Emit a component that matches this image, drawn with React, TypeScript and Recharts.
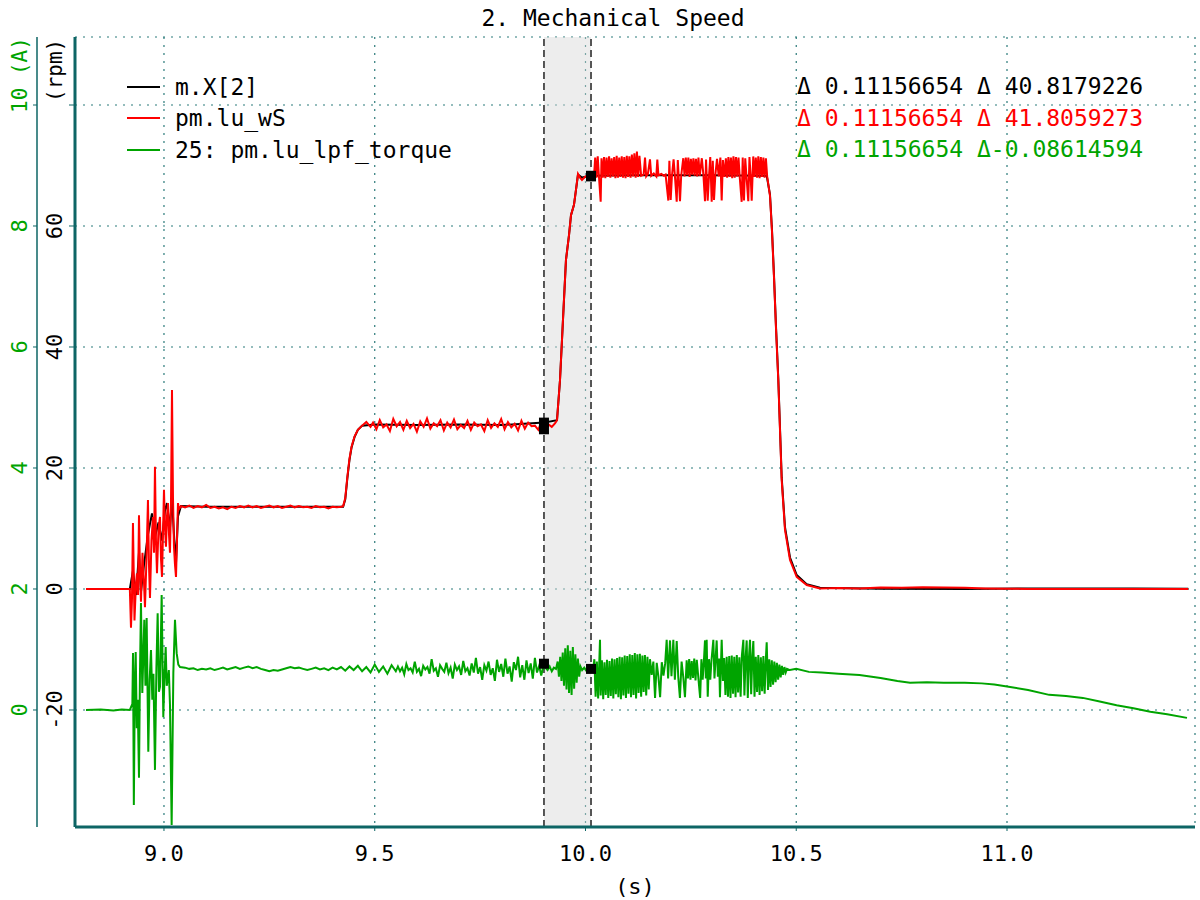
import React from 'react';
import {
  LineChart,
  Line,
  XAxis,
  YAxis,
  CartesianGrid,
  ReferenceArea,
  ReferenceLine,
  ReferenceDot,
} from 'recharts';

const FONT = '"DejaVu Sans Mono", monospace';
const TEAL = '#0d6565';
const GRID = '#2b7a7a';
const BLACK = '#000000';
const RED = '#ff0000';
const GREEN = '#00a400';

// axis ids: 0 = speed (rpm, inner), 1 = current (A, outer)
const RPM = 0;
const AMP = 1;

const timeTicks = [9.0, 9.5, 10.0, 10.5, 11.0];
const rpmTicks = [-20, 0, 20, 40, 60, 80];
const ampTicks = [0, 2, 4, 6, 8, 10];

// two cursors, 0.11156654 s apart
const cursorTimes = [9.9015, 10.0131];
const cursorBlack = [27.5, 68.3];
const cursorRed = [26.4, 68.2];
const cursorGreen = [0.765, 0.679];

const legendNames = ['m.X[2]', 'pm.lu_wS', '25: pm.lu_lpf_torque'];
const deltaLines = [
  'Δ 0.11156654 Δ 40.8179226',
  'Δ 0.11156654 Δ 41.8059273',
  'Δ 0.11156654 Δ-0.08614594',
];

// m.X[2] (rpm)
const blackSpeed: [number, number][] = [
  [8.815, 0], [8.919, 0], [8.9264, 3], [8.9336, -1], [8.9407, 6], [8.9454, -0.5],
  [8.9526, 4], [8.962, 9], [8.9715, 12.5], [8.9786, 8.6], [8.987, 11], [8.9953, 8],
  [9.0024, 13], [9.0071, 14.2], [9.0142, 10], [9.019, 15], [9.0237, 9], [9.0285, 4.3],
  [9.0332, 12], [9.0403, 13.7], [9.1, 13.6], [9.2, 13.6], [9.3, 13.6], [9.425, 13.6],
  [9.43, 14.8], [9.435, 18.3], [9.44, 21.3], [9.445, 23.4], [9.452, 25.1], [9.46, 26.3],
  [9.47, 27.0], [9.5, 27.2], [9.6, 27.1], [9.7, 27.2], [9.8, 27.1], [9.9015, 27.5],
  [9.9324, 27.9], [9.9395, 34.5], [9.9466, 44.5], [9.9537, 54.4], [9.9609, 58.5],
  [9.9656, 61.8], [9.9727, 63.5], [9.9775, 66], [9.9822, 68.5], [9.9917, 68.0],
  [10.0131, 68.3], [10.1, 68.4], [10.2, 68.4], [10.3, 68.4], [10.43, 68.3],
  [10.4377, 65.2], [10.4425, 59.3], [10.4472, 51.8], [10.452, 43.3], [10.4574, 34.8],
  [10.4655, 18.4], [10.4733, 10.2], [10.4852, 5.2], [10.5011, 2.3], [10.5248, 0.8],
  [10.5563, 0.2], [10.7, 0.05], [10.9, 0.0], [11.05, 0.1], [11.3, 0.1], [11.43, 0.05],
];

// pm.lu_wS (rpm)
const redSpeed: [number, number][] = [
  [8.815, 0], [8.919, 0], [8.9217, -6.4], [8.924, -2], [8.9264, 10.9], [8.93, -5.2],
  [8.9336, 1], [8.9359, 2.6], [8.9383, -1], [8.9407, 12.2], [8.9431, 3], [8.9454, -2.1],
  [8.949, 6], [8.9526, 1], [8.9549, -3], [8.9585, 5], [8.962, 14.7], [8.9644, 4],
  [8.9668, -1.5], [8.9703, 8], [8.9739, 11.9], [8.9763, 6], [8.9786, 20.2], [8.981, 8],
  [8.9834, 2.6], [8.987, 10], [8.9905, 11.9], [8.9929, 5], [8.9953, 2], [8.9976, 9],
  [9.0, 16.4], [9.0024, 10], [9.0047, 7], [9.0071, 12], [9.0095, 14.2], [9.0119, 9],
  [9.0142, 6], [9.0166, 14], [9.019, 32.9], [9.0214, 15], [9.0237, 7], [9.0261, 4],
  [9.0285, 2], [9.0308, 8], [9.0332, 14.2], [9.0356, 13.2], [9.0403, 13.7],
  [9.05, 13.5], [9.06, 13.8], [9.07, 13.4], [9.08, 13.7], [9.09, 13.5], [9.1, 13.9],
  [9.11, 13.4], [9.12, 13.6], [9.13, 13.3], [9.14, 13.5], [9.15, 13.2], [9.16, 13.6],
  [9.17, 13.4], [9.18, 13.7], [9.19, 13.5], [9.2, 13.8], [9.21, 13.5], [9.22, 13.7],
  [9.23, 13.4], [9.24, 13.6], [9.25, 13.8], [9.26, 13.5], [9.27, 13.7], [9.28, 13.4],
  [9.29, 13.6], [9.3, 13.8], [9.31, 13.5], [9.32, 13.7], [9.33, 13.5], [9.34, 13.6],
  [9.35, 13.4], [9.36, 13.7], [9.37, 13.5], [9.38, 13.6], [9.39, 13.3], [9.4, 13.6],
  [9.41, 13.5], [9.42, 13.6], [9.425, 13.7],
  [9.43, 15], [9.435, 18.5], [9.44, 21.5], [9.445, 23.5], [9.452, 25.2], [9.46, 26.3],
  [9.47, 27.0], [9.48, 27.6], [9.49, 26.8],
  [9.496, 27.5], [9.504, 26.4], [9.512, 27.9], [9.52, 26.7], [9.528, 27.2], [9.536, 26.1],
  [9.544, 28.1], [9.552, 26.9], [9.56, 27.6], [9.568, 26.3], [9.576, 27.8], [9.584, 26.6],
  [9.592, 27.3], [9.6, 26.0], [9.608, 27.7], [9.616, 26.8], [9.624, 28.2], [9.632, 26.5],
  [9.64, 27.4], [9.648, 26.9], [9.656, 27.9], [9.664, 26.2], [9.672, 27.5], [9.68, 26.7],
  [9.688, 28.0], [9.696, 26.4], [9.704, 27.1], [9.712, 26.6], [9.72, 27.8], [9.728, 26.3],
  [9.736, 27.5], [9.744, 26.9], [9.752, 27.2], [9.76, 26.1], [9.768, 27.9], [9.776, 26.6],
  [9.784, 27.4], [9.792, 26.8], [9.8, 28.1], [9.808, 26.4], [9.816, 27.6], [9.824, 26.7],
  [9.832, 27.3], [9.84, 26.2], [9.848, 27.8], [9.856, 26.5], [9.864, 27.5], [9.872, 26.9],
  [9.88, 27.0], [9.888, 26.3], [9.896, 27.7], [9.904, 26.6], [9.912, 27.2], [9.92, 26.8],
  [9.928, 27.4],
  [9.9324, 27.9], [9.9395, 34.5], [9.9466, 44.5], [9.9537, 54.4], [9.9609, 58.5],
  [9.9656, 61.8], [9.9727, 63.5], [9.9775, 66], [9.9822, 68.6], [9.987, 68.0],
  [9.9917, 67.6], [10.0, 68.2], [10.0059, 68.1], [10.013, 68.2], [10.02, 68.0],
  [10.023, 71.3], [10.026, 68.0], [10.029, 71.5], [10.032, 68.1], [10.036, 64.0],
  [10.038, 71.2], [10.041, 68.0], [10.044, 71.4], [10.047, 67.9], [10.05, 71.3],
  [10.053, 68.1], [10.056, 71.5], [10.059, 68.0], [10.062, 71.2], [10.065, 68.2],
  [10.068, 71.4], [10.071, 67.9], [10.074, 71.6], [10.077, 68.0], [10.08, 71.3],
  [10.083, 68.1], [10.086, 71.5], [10.089, 68.0], [10.092, 71.4], [10.095, 67.9],
  [10.098, 71.6], [10.101, 68.1], [10.104, 71.5], [10.107, 68.0], [10.11, 71.8],
  [10.113, 68.2], [10.116, 72.0], [10.119, 68.0], [10.122, 72.3], [10.125, 68.1],
  [10.128, 71.6],
  [10.132, 68.3], [10.138, 68.5], [10.1412, 71.3], [10.144, 68.2], [10.148, 68.6],
  [10.153, 71.0], [10.156, 68.3], [10.162, 68.7], [10.168, 68.2], [10.1704, 71.0],
  [10.173, 68.4], [10.18, 68.6], [10.186, 68.3], [10.19, 68.5],
  [10.1965, 64.2], [10.199, 70.8], [10.2021, 64.3], [10.205, 68.2], [10.209, 71.0],
  [10.212, 68.4], [10.2164, 64.0], [10.219, 70.9], [10.2242, 64.1], [10.227, 68.3],
  [10.232, 71.2], [10.235, 68.2], [10.238, 71.3], [10.241, 68.4], [10.244, 71.3],
  [10.247, 68.1], [10.25, 71.1], [10.253, 68.5], [10.256, 71.2], [10.259, 68.3],
  [10.262, 71.1], [10.265, 68.2], [10.268, 71.3], [10.271, 68.3],
  [10.276, 71.2], [10.28, 68.2], [10.2835, 64.1], [10.286, 71.0], [10.2899, 64.2],
  [10.293, 68.3], [10.296, 71.4], [10.2994, 64.0], [10.302, 70.8], [10.3049, 64.3],
  [10.308, 68.4], [10.312, 71.1], [10.316, 68.2], [10.32, 71.3], [10.3231, 64.2],
  [10.326, 70.9], [10.33, 68.1], [10.333, 71.2],
  [10.336, 68.0], [10.339, 71.4], [10.342, 68.1], [10.345, 71.3], [10.348, 67.9],
  [10.351, 71.5], [10.354, 68.0], [10.357, 71.4], [10.36, 68.2], [10.363, 71.3],
  [10.366, 68.0], [10.3705, 64.0], [10.373, 71.3], [10.376, 64.2], [10.379, 71.2],
  [10.382, 68.1], [10.3862, 64.1], [10.389, 71.4], [10.392, 68.0], [10.3943, 64.2],
  [10.398, 71.5], [10.401, 68.1], [10.404, 71.3], [10.407, 68.0], [10.41, 71.5],
  [10.413, 67.9], [10.416, 71.4], [10.419, 68.1], [10.422, 71.3], [10.425, 68.0],
  [10.428, 71.2], [10.431, 68.2],
  [10.4377, 65.0], [10.4425, 59.0], [10.4472, 51.5], [10.452, 43.0],
  [10.4574, 34.5], [10.4655, 18.0], [10.4733, 9.75], [10.4852, 4.8], [10.5011, 2.0],
  [10.5248, 0.66], [10.5563, 0.1], [10.6, 0.15], [10.65, 0.1], [10.7, 0.25],
  [10.75, 0.2], [10.8, 0.3], [10.85, 0.25], [10.9, 0.2], [10.95, 0.1], [11.0, 0.05],
  [11.05, 0.0], [11.1, 0.0], [11.2, 0.0], [11.3, 0.0], [11.43, 0.0],
];

// 25: pm.lu_lpf_torque (A)
const greenTorque: [number, number][] = [
  [8.815, 0.0], [8.85, 0.01], [8.88, -0.01], [8.9, 0.01], [8.919, 0.0],
  [8.925, 0.1], [8.9265, 0.94], [8.9285, -1.57], [8.931, 0.5], [8.9329, 0.96],
  [8.9355, -0.3], [8.9376, 0.17], [8.9407, -1.12], [8.943, 0.6], [8.9454, 1.77],
  [8.9486, 0.28], [8.951, 0.9], [8.9533, 1.49], [8.956, 0.4], [8.9589, 1.52],
  [8.9628, -0.69], [8.966, 0.5], [8.9692, 0.99], [8.9723, 0.17], [8.975, 0.6],
  [8.9786, -0.99], [8.982, 0.7], [8.985, 1.6], [8.988, 0.3], [8.9905, 0.38],
  [8.9945, 1.9], [8.9984, -0.12], [9.001, 0.5], [9.004, 1.04], [9.0065, 0.4],
  [9.0088, 0.5], [9.0115, 0.66], [9.0142, 0.1], [9.0182, -1.9], [9.0222, 0.61],
  [9.0261, 1.49], [9.0301, 0.94], [9.034, 0.75], [9.038, 0.71],
  [9.05, 0.7], [9.06, 0.68], [9.07, 0.69], [9.08, 0.66], [9.09, 0.68], [9.1, 0.67],
  [9.11, 0.69], [9.12, 0.66], [9.13, 0.68], [9.14, 0.7], [9.15, 0.67], [9.16, 0.69],
  [9.17, 0.71], [9.18, 0.68], [9.19, 0.7], [9.2, 0.72], [9.21, 0.69], [9.22, 0.71],
  [9.23, 0.68], [9.24, 0.66], [9.25, 0.64], [9.26, 0.66], [9.27, 0.65], [9.28, 0.67],
  [9.29, 0.69], [9.3, 0.71], [9.31, 0.69], [9.32, 0.7], [9.33, 0.68], [9.34, 0.66],
  [9.35, 0.68], [9.36, 0.7], [9.37, 0.67], [9.38, 0.69], [9.39, 0.66], [9.4, 0.7],
  [9.41, 0.67], [9.42, 0.71], [9.43, 0.65], [9.44, 0.72], [9.45, 0.66], [9.46, 0.73],
  [9.47, 0.64], [9.48, 0.71], [9.49, 0.62], [9.5, 0.75], [9.51, 0.63], [9.52, 0.72],
  [9.53, 0.6], [9.54, 0.74], [9.55, 0.64],
  [9.555, 0.72], [9.56, 0.64], [9.565, 0.7], [9.57, 0.59], [9.575, 0.76], [9.58, 0.66],
  [9.585, 0.69], [9.59, 0.62], [9.595, 0.8], [9.6, 0.63], [9.605, 0.68], [9.61, 0.56],
  [9.615, 0.73], [9.62, 0.67], [9.625, 0.71], [9.63, 0.6], [9.635, 0.84], [9.64, 0.65],
  [9.645, 0.69], [9.65, 0.55], [9.655, 0.74], [9.66, 0.68], [9.665, 0.63], [9.67, 0.78],
  [9.675, 0.61], [9.68, 0.7], [9.685, 0.52], [9.69, 0.75], [9.695, 0.66], [9.7, 0.72],
  [9.705, 0.58], [9.71, 0.81], [9.715, 0.64], [9.72, 0.69], [9.725, 0.57], [9.73, 0.77],
  [9.735, 0.62], [9.74, 0.86], [9.745, 0.6], [9.75, 0.71], [9.755, 0.5], [9.76, 0.74],
  [9.765, 0.65], [9.77, 0.8], [9.775, 0.58], [9.78, 0.69], [9.785, 0.48], [9.79, 0.83],
  [9.795, 0.63], [9.8, 0.76], [9.805, 0.55], [9.81, 0.85], [9.815, 0.6], [9.82, 0.72],
  [9.825, 0.47], [9.83, 0.79], [9.835, 0.66], [9.84, 0.88], [9.845, 0.54], [9.85, 0.74],
  [9.855, 0.5], [9.86, 0.82], [9.865, 0.61], [9.87, 0.77], [9.875, 0.52], [9.88, 0.86],
  [9.885, 0.62], [9.89, 0.73], [9.895, 0.57], [9.9015, 0.765], [9.905, 0.7], [9.91, 0.66],
  [9.915, 0.72], [9.92, 0.64], [9.925, 0.7], [9.93, 0.68],
  [9.934, 0.8], [9.937, 0.55], [9.94, 0.88], [9.943, 0.48], [9.946, 0.95], [9.949, 0.4],
  [9.952, 1.02], [9.955, 0.34], [9.958, 1.07], [9.961, 0.28], [9.964, 0.98], [9.967, 0.25],
  [9.97, 1.04], [9.973, 0.35], [9.976, 0.92], [9.979, 0.45], [9.982, 0.85], [9.985, 0.55],
  [9.988, 0.72], [9.992, 0.66], [9.997, 0.7], [10.002, 0.65], [10.007, 0.68],
  [10.0131, 0.679], [10.018, 0.66],
  [10.021, 0.84], [10.024, 0.22], [10.027, 0.8], [10.03, 0.19], [10.0344, 1.16],
  [10.036, 0.24], [10.039, 0.82], [10.042, 0.18], [10.045, 0.79], [10.048, 0.25],
  [10.051, 0.83], [10.054, 0.2], [10.057, 0.81], [10.06, 0.23], [10.063, 0.85],
  [10.066, 0.19], [10.069, 0.84], [10.072, 0.26], [10.075, 0.86], [10.078, 0.21],
  [10.081, 0.88], [10.084, 0.18], [10.087, 0.87], [10.09, 0.24], [10.093, 0.9],
  [10.096, 0.2], [10.099, 0.89], [10.102, 0.27], [10.105, 0.92], [10.108, 0.21],
  [10.111, 0.91], [10.114, 0.25], [10.117, 0.94], [10.12, 0.19], [10.123, 0.92],
  [10.126, 0.28], [10.129, 0.93], [10.132, 0.22], [10.135, 0.9], [10.138, 0.3],
  [10.141, 0.91], [10.144, 0.24], [10.147, 0.88], [10.15, 0.34], [10.153, 0.84],
  [10.157, 0.58], [10.161, 0.8], [10.165, 0.2], [10.169, 0.78], [10.173, 0.55],
  [10.177, 0.21], [10.181, 0.79], [10.185, 0.57], [10.189, 0.77], [10.1926, 1.16],
  [10.196, 0.52], [10.2005, 1.15], [10.204, 0.56], [10.2084, 1.16], [10.212, 0.5],
  [10.2164, 1.14], [10.22, 0.55], [10.224, 0.2], [10.228, 0.8], [10.232, 0.54],
  [10.236, 0.21], [10.24, 0.82], [10.243, 0.52], [10.246, 0.84], [10.249, 0.5],
  [10.252, 0.81], [10.255, 0.53], [10.258, 0.85], [10.261, 0.49], [10.264, 0.83],
  [10.268, 0.51], [10.272, 0.2], [10.275, 0.84], [10.278, 0.5], [10.281, 0.82],
  [10.2835, 1.15], [10.2855, 0.52], [10.2875, 1.16], [10.29, 0.22], [10.293, 0.84],
  [10.296, 0.5], [10.299, 0.83], [10.3033, 1.16], [10.306, 0.52], [10.3112, 1.15],
  [10.314, 0.55], [10.317, 0.85], [10.319, 0.21], [10.3231, 1.16], [10.326, 0.48],
  [10.329, 0.86], [10.332, 0.25], [10.335, 0.88], [10.338, 0.22], [10.341, 0.89],
  [10.344, 0.2], [10.347, 0.9], [10.35, 0.27], [10.353, 0.88], [10.356, 0.21],
  [10.359, 0.91], [10.362, 0.29], [10.365, 0.87], [10.368, 0.22], [10.371, 0.9],
  [10.3745, 1.16], [10.377, 0.24], [10.38, 0.88], [10.3824, 1.15], [10.385, 0.2],
  [10.388, 0.89], [10.3903, 1.16], [10.393, 0.26], [10.396, 0.9], [10.3982, 1.14],
  [10.401, 0.22], [10.404, 0.88], [10.407, 0.3], [10.41, 0.91], [10.413, 0.25],
  [10.416, 0.87], [10.419, 0.31], [10.422, 0.89], [10.425, 0.27], [10.428, 0.86],
  [10.4299, 1.12], [10.433, 0.33], [10.436, 0.84], [10.439, 0.38], [10.442, 0.82],
  [10.445, 0.42], [10.448, 0.8], [10.451, 0.46], [10.454, 0.78], [10.457, 0.5],
  [10.46, 0.75], [10.463, 0.54], [10.466, 0.73], [10.469, 0.58], [10.472, 0.71],
  [10.475, 0.62], [10.478, 0.68],
  [10.485, 0.66], [10.5, 0.68], [10.53, 0.63], [10.56, 0.62], [10.6, 0.6], [10.65, 0.58],
  [10.7, 0.53], [10.74, 0.48], [10.77, 0.45], [10.81, 0.46], [10.85, 0.45], [10.9, 0.45],
  [10.94, 0.44], [10.97, 0.42], [11.0, 0.39], [11.05, 0.33], [11.1, 0.25], [11.14, 0.23],
  [11.18, 0.2], [11.22, 0.14], [11.26, 0.08], [11.3, 0.03], [11.34, -0.03], [11.38, -0.07],
  [11.427, -0.13],
];

const toRows = (pts: [number, number][]) => pts.map(([t, v]) => ({ t, v }));

const rotated = (x: number, y: number) => `rotate(-90 ${x} ${y})`;

function RpmTick(props: any) {
  const { x, y, payload } = props;
  const cx = x - 12;
  if (payload.value === 80) {
    const sy = y - 3;
    return (
      <text x={cx} y={sy} transform={rotated(cx, sy)} textAnchor="start" dominantBaseline="central"
        fontFamily={FONT} fontSize={21} fill={BLACK}>(rpm)</text>
    );
  }
  return (
    <text x={cx} y={y} transform={rotated(cx, y)} textAnchor="middle" dominantBaseline="central"
      fontFamily={FONT} fontSize={22} fill={BLACK}>{payload.value}</text>
  );
}

function AmpTick(props: any) {
  const { x, y, payload } = props;
  const cx = x - 11;
  if (payload.value === 10) {
    const sy = y + 8;
    return (
      <text x={cx} y={sy} transform={rotated(cx, sy)} textAnchor="start" dominantBaseline="central"
        fontFamily={FONT} fontSize={21} fill={GREEN}>10 (A)</text>
    );
  }
  return (
    <text x={cx} y={y} transform={rotated(cx, y)} textAnchor="middle" dominantBaseline="central"
      fontFamily={FONT} fontSize={22} fill={GREEN}>{payload.value}</text>
  );
}

const squareMarker = (props: any) => (
  <rect x={props.cx - 5} y={props.cy - 5} width={10} height={10} fill={BLACK} />
);

export default function App() {
  const seriesColors = [BLACK, RED, GREEN];
  return (
    <div style={{ position: 'absolute', left: 0, top: 0, width: 1200, height: 900, background: '#fff', fontFamily: FONT }}>
      <div style={{ position: 'absolute', left: 413, top: 4, width: 400, textAlign: 'center', fontSize: 23, lineHeight: '28px', color: BLACK }}>
        2. Mechanical Speed
      </div>
      <LineChart width={1200} height={900} margin={{ top: 37, right: 5, bottom: 0, left: 0 }}>
        <ReferenceArea x1={cursorTimes[0]} x2={cursorTimes[1]} yAxisId={RPM} fill="#d8d8d8" fillOpacity={0.45} stroke="none" />
        <CartesianGrid yAxisId={RPM} stroke={GRID} strokeDasharray="2 6" strokeWidth={1.2} />
        <XAxis
          type="number"
          dataKey="t"
          domain={[8.7889, 11.446]}
          ticks={timeTicks}
          allowDataOverflow
          tickFormatter={(v: number) => v.toFixed(1)}
          height={73}
          stroke={TEAL}
          axisLine={{ stroke: TEAL, strokeWidth: 3 }}
          tickLine={{ stroke: TEAL }}
          tickSize={4}
          tickMargin={14}
          tick={{ fill: BLACK, fontSize: 22, fontFamily: FONT }}
          label={{ value: '(s)', position: 'insideBottom', offset: 6, fill: BLACK, fontSize: 22, fontFamily: FONT }}
        />
        <YAxis
          yAxisId={RPM}
          type="number"
          domain={[-39.34, 91.24]}
          ticks={rpmTicks}
          allowDataOverflow
          width={38}
          axisLine={{ stroke: TEAL, strokeWidth: 3 }}
          tickLine={{ stroke: TEAL }}
          tickSize={6}
          tick={<RpmTick />}
        />
        <YAxis
          yAxisId={AMP}
          type="number"
          domain={[-1.934, 11.124]}
          ticks={ampTicks}
          allowDataOverflow
          width={37}
          axisLine={{ stroke: TEAL, strokeWidth: 1.5 }}
          tickLine={{ stroke: TEAL }}
          tickSize={4}
          tick={<AmpTick />}
        />
        {cursorTimes.map((t) => (
          <ReferenceLine key={t} x={t} yAxisId={RPM} stroke={BLACK} strokeWidth={1.3} strokeDasharray="7 4" />
        ))}
        <Line yAxisId={RPM} data={toRows(blackSpeed)} dataKey="v" stroke={BLACK} strokeWidth={2} dot={false} isAnimationActive={false} />
        <Line yAxisId={RPM} data={toRows(redSpeed)} dataKey="v" stroke={RED} strokeWidth={2} dot={false} isAnimationActive={false} />
        <Line yAxisId={AMP} data={toRows(greenTorque)} dataKey="v" stroke={GREEN} strokeWidth={2} dot={false} isAnimationActive={false} />
        {cursorTimes.map((t, i) => (
          <ReferenceDot key={`b${i}`} x={t} y={cursorBlack[i]} yAxisId={RPM} shape={squareMarker} />
        ))}
        {cursorTimes.map((t, i) => (
          <ReferenceDot key={`r${i}`} x={t} y={cursorRed[i]} yAxisId={RPM} shape={squareMarker} />
        ))}
        {cursorTimes.map((t, i) => (
          <ReferenceDot key={`g${i}`} x={t} y={cursorGreen[i]} yAxisId={AMP} shape={squareMarker} />
        ))}
      </LineChart>
      <div style={{ position: 'absolute', left: 127, top: 71 }}>
        {legendNames.map((name, i) => (
          <div key={name} style={{ display: 'flex', alignItems: 'center', height: 31.5 }}>
            <span style={{ width: 33, height: 2, background: seriesColors[i], marginRight: 15 }} />
            <span style={{ fontSize: 23, color: BLACK, whiteSpace: 'pre' }}>{name}</span>
          </div>
        ))}
      </div>
      <div style={{ position: 'absolute', left: 797, top: 71 }}>
        {deltaLines.map((line, i) => (
          <div key={i} style={{ height: 31.5, lineHeight: '31.5px', fontSize: 23, color: seriesColors[i], whiteSpace: 'pre' }}>
            {line}
          </div>
        ))}
      </div>
    </div>
  );
}
